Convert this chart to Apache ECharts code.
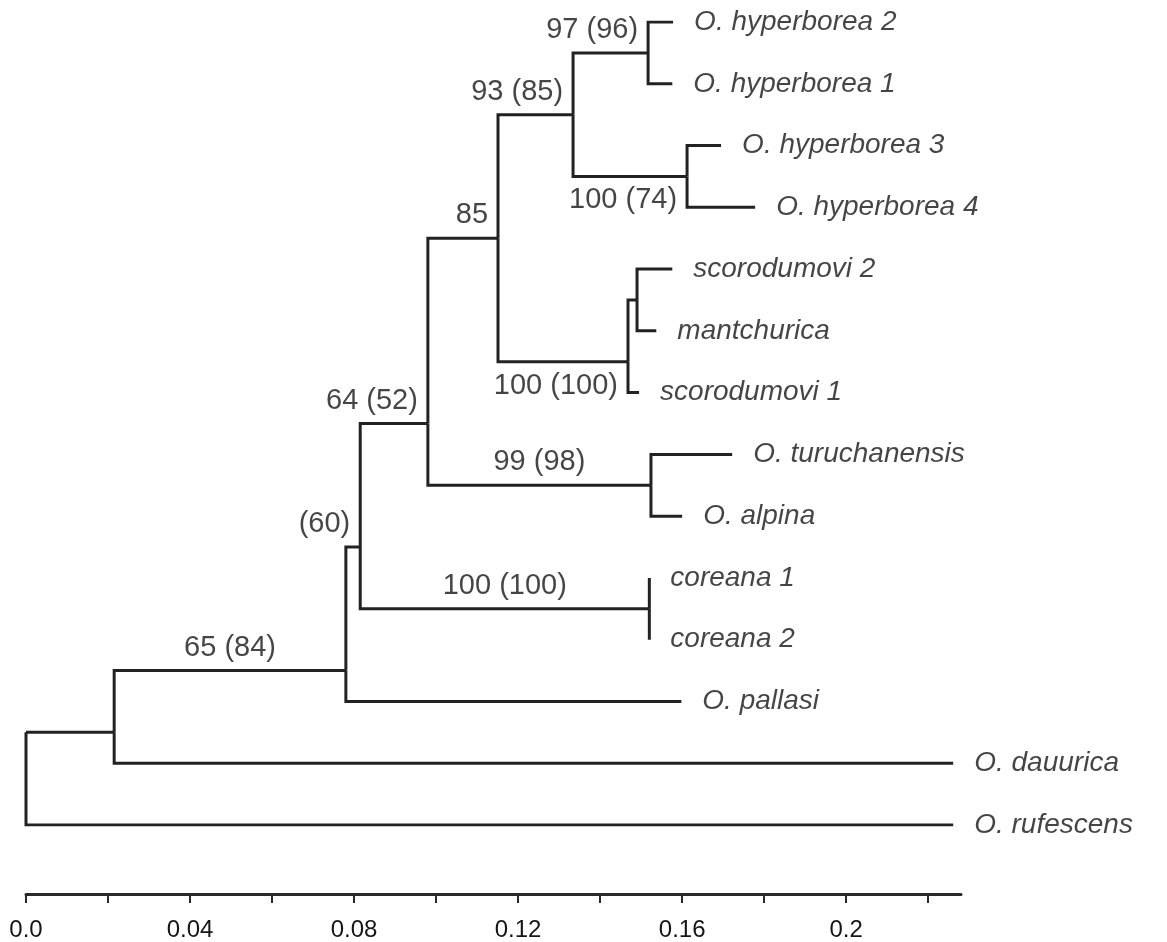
<!DOCTYPE html>
<html>
<head>
<meta charset="utf-8">
<script src="https://cdn.jsdelivr.net/npm/echarts@6/dist/echarts.min.js"></script>
<style>
html,body{margin:0;padding:0;background:#fff;}
#chart{width:1167px;height:942px;}
</style>
</head>
<body>
<div id="chart"></div>
<script>
// ---- data ----
const leafNames = ['O. hyperborea 2','O. hyperborea 1','O. hyperborea 3','O. hyperborea 4','scorodumovi 2','mantchurica','scorodumovi 1','O. turuchanensis','O. alpina','coreana 1','coreana 2','O. pallasi','O. dauurica','O. rufescens'];
const leafDepth = [0.1578,0.1576,0.1695,0.1778,0.1576,0.1537,0.1495,0.1722,0.1600,0.1520,0.1520,0.1598,0.2261,0.2261];
const leafParent = ['A','A','B','B','D','D','E','G','G','I','I','K','L','R'];

const nodeIds = ['A','B','C','D','E','F','G','H','I','J','K','L','R'];
const nodeDepth = [0.1517,0.1612,0.1334,0.1490,0.1468,0.1151,0.1524,0.0980,0.1520,0.0815,0.0780,0.0215,0];
const nodeRow = [0.5,2.5,1.5,4.5,5.5,3.5,7.5,6.5,9.5,8.5,10.5,11.5,11.5];
const nodeParent = ['C','C','F','E','F','H','H','J','J','K','L','R',null];
const supportText = ['97 (96)','100 (74)','93 (85)','','100 (100)','85','99 (98)','64 (52)','100 (100)','(60)','65 (84)','',''];
const supportPlace = ['above','below','above','','below','above','mid','above','mid','above','mid','',''];

const tickValues = [0,0.02,0.04,0.06,0.08,0.10,0.12,0.14,0.16,0.18,0.20,0.22];
const tickLabelValues = [0,0.04,0.08,0.12,0.16,0.20];
const tickLabels = ['0.0','0.04','0.08','0.12','0.16','0.2'];

// ---- build ----
const pos = {};
nodeIds.forEach((id,i)=>{ pos[id] = {x: nodeDepth[i], y: nodeRow[i]}; });

const edges = [];
nodeIds.forEach((id,i)=>{
  const p = nodeParent[i];
  if(!p) return;
  const P = pos[p];
  edges.push({coords: [[P.x,P.y],[P.x,nodeRow[i]],[nodeDepth[i],nodeRow[i]]]});
});
leafNames.forEach((n,i)=>{
  const P = pos[leafParent[i]];
  edges.push({coords: [[P.x,P.y],[P.x,i],[leafDepth[i],i]]});
});

const leafPoints = leafNames.map((n,i)=>({value:[leafDepth[i], i], name:n}));

const FONT = 'Liberation Sans, Arial, sans-serif';
const TXT = '#161616';
const supportPoints = [];
nodeIds.forEach((id,i)=>{
  const t = supportText[i];
  if(!t) return;
  const place = supportPlace[i];
  let x = nodeDepth[i];
  let label;
  if(place === 'mid'){
    const P = pos[nodeParent[i]];
    x = (P.x + nodeDepth[i]) / 2;
    label = {show:true, position:'inside', offset:[0,-23], formatter:t};
  } else if(place === 'above'){
    label = {show:true, position:'left', distance:10, offset:[0,-23], formatter:t};
  } else {
    label = {show:true, position:'left', distance:10, offset:[0,24], formatter:t};
  }
  supportPoints.push({value:[x, nodeRow[i]], label});
});

const chart = echarts.init(document.getElementById('chart'), null, {renderer:'canvas'});
chart.setOption({
  backgroundColor:'#ffffff',
  animation:false,
  grid:{left:26, right:206, top:22, bottom:116, containLabel:false},
  xAxis:{
    type:'value', min:0, max:0.228, position:'bottom', offset:69,
    splitLine:{show:false},
    axisLine:{show:true, onZero:false, lineStyle:{color:'#2a2a2a', width:3}},
    axisTick:{show:true, length:9, lineStyle:{color:'#2a2a2a', width:2}, customValues:tickValues},
    axisLabel:{
      show:true, margin:24, fontSize:24, color:TXT, fontFamily:FONT,
      customValues:tickLabelValues,
      formatter:function(v){
        for(let k=0;k<tickLabelValues.length;k++){ if(Math.abs(v-tickLabelValues[k])<1e-9) return tickLabels[k]; }
        return '';
      }
    }
  },
  yAxis:{type:'value', min:0, max:13, inverse:true, show:false},
  series:[
    {
      type:'lines', coordinateSystem:'cartesian2d', polyline:true, silent:true,
      lineStyle:{color:'#222', width:3, opacity:1, join:'miter', cap:'butt'},
      data:edges
    },
    {
      type:'scatter', symbolSize:0, silent:true,
      label:{show:true, position:'right', distance:21, fontSize:28, fontStyle:'italic', color:TXT, fontFamily:FONT,
        formatter:function(p){return p.name;}},
      data:leafPoints
    },
    {
      type:'scatter', symbolSize:0, silent:true,
      label:{fontSize:29, color:TXT, fontFamily:FONT},
      data:supportPoints
    }
  ]
});
</script>
</body>
</html>
